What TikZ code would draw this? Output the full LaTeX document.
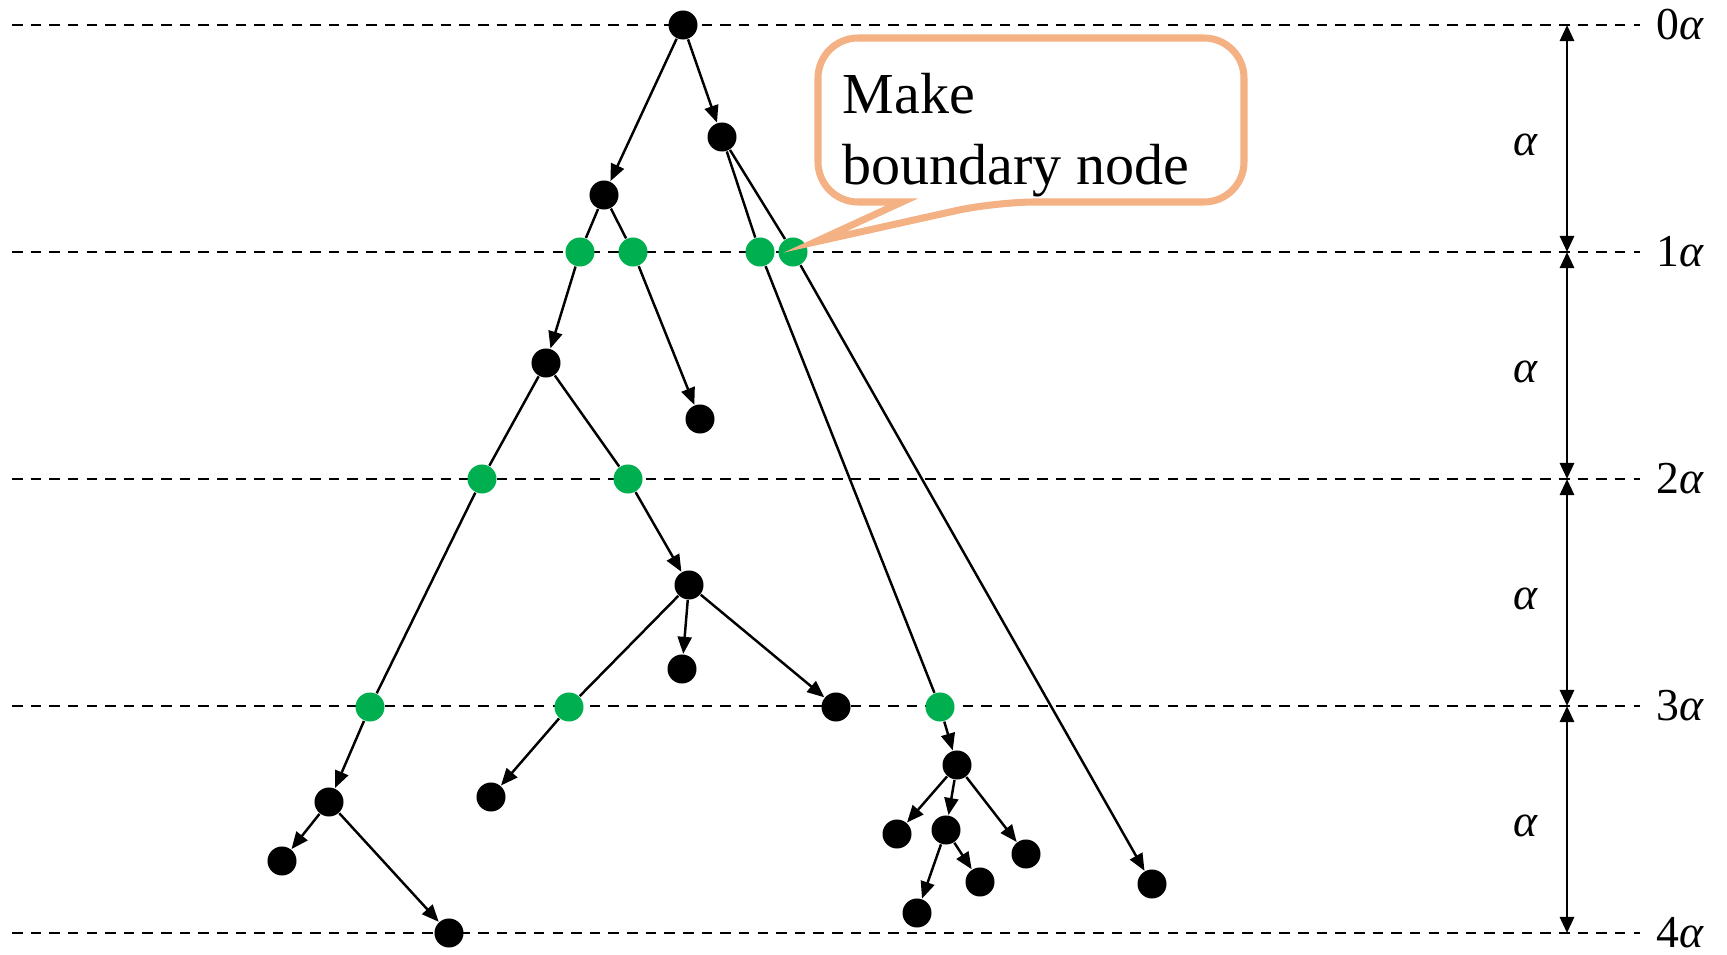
\documentclass[tikz,border=0pt]{standalone}
\usepackage{fontspec}
\setmainfont{Liberation Serif}
\usepackage{xcolor}
\usetikzlibrary{arrows.meta,calc}
\definecolor{bgreen}{RGB}{0,176,80}
\definecolor{peach}{RGB}{244,177,131}

\begin{document}
\begin{tikzpicture}[
  x=0.01cm, y=-0.01cm,
  font=\fontsize{13}{15}\selectfont,
  vtx/.style = {circle, fill=black, minimum size=0.29cm, inner sep=0pt},
  bnd/.style = {circle, fill=bgreen, minimum size=0.29cm, inner sep=0pt},
  arr/.style = {-{Triangle[length=0.17cm, width=0.14cm]}, line width=0.7pt},
  seg/.style = {line width=0.7pt},
  cutline/.style = {line width=0.75pt, dash pattern=on 3pt off 2.3pt},
  dim/.style = {{Triangle[length=0.16cm, width=0.14cm]}-{Triangle[length=0.16cm, width=0.14cm]}, line width=0.8pt},
  balloon/.style = {draw=peach, line width=2pt, fill=white},
]
\useasboundingbox (0,0) rectangle (1727,955);

% levels 0a .. 4a
\foreach \i in {0,...,4} {
  \pgfmathsetmacro{\yy}{25+227*\i}
  \draw[cutline] (12,\yy) -- (1640,\yy);
  \node[anchor=west, inner sep=0pt] (lv\i) at (1656,\yy) {\i\textit{α}};
  \coordinate (t\i) at (1567,\yy);
}
\foreach \i/\j in {0/1, 1/2, 2/3, 3/4} {
  \draw[dim] (t\i) -- (t\j);
  \node (w\i) at ($(t\i)!0.5!(t\j)+(-41,6)$) {\textit{α}};
}

% black vertices
\node[vtx] at (683,25)   (v0)  {};
\node[vtx] at (722,137)  (v1)  {};
\node[vtx] at (604,195)  (v2)  {};
\node[vtx] at (546,363)  (v3)  {};
\node[vtx] at (700,419)  (v4)  {};
\node[vtx] at (689,585)  (v5)  {};
\node[vtx] at (682,669)  (v6)  {};
\node[vtx] at (836,707)  (v7)  {};
\node[vtx] at (491,797)  (v8)  {};
\node[vtx] at (329,802)  (v9)  {};
\node[vtx] at (282,861)  (v10) {};
\node[vtx] at (449,933)  (v11) {};
\node[vtx] at (957,765)  (v12) {};
\node[vtx] at (897,834)  (v13) {};
\node[vtx] at (946,830)  (v14) {};
\node[vtx] at (1026,854) (v15) {};
\node[vtx] at (980,882)  (v16) {};
\node[vtx] at (917,913)  (v17) {};
\node[vtx] at (1152,884) (v18) {};

% boundary vertices
\node[bnd] at (580,252) (q1) {};
\node[bnd] at (633,252) (q2) {};
\node[bnd] at (760,252) (q3) {};
\node[bnd] at (793,252) (q4) {};
\node[bnd] at (482,479) (q5) {};
\node[bnd] at (628,479) (q6) {};
\node[bnd] at (370,707) (q7) {};
\node[bnd] at (569,707) (q8) {};
\node[bnd] at (940,707) (q9) {};

\foreach \s/\t in {v2/q1, v2/q2, v1/q3, q3/q9, v1/q4, v3/q5, q5/q7, v3/q6, v5/q8} {
  \draw[seg] (\s) -- (\t);
}
\foreach \s/\t in {v0/v1, v0/v2, q1/v3, q2/v4, q9/v12, q4/v18, q7/v9, q6/v5,
                   v5/v6, v5/v7, q8/v8, v9/v10, v9/v11,
                   v12/v13, v12/v14, v12/v15, v14/v16, v14/v17} {
  \draw[arr] (\s) -- (\t);
}

% speech balloon
\draw[balloon] (818,120) [rounded corners=0.4cm] -- (818,38) -- (1244,38) -- (1244,202)
  -- (995,202) [sharp corners] -- (815,242) -- (902,202) [rounded corners=0.4cm] -- (818,202) -- cycle;
\node[anchor=north west, align=left, inner sep=0pt, font=\fontsize{16.5}{20}\selectfont]
  (note) at (842,73) {Make\\boundary node};
\end{tikzpicture}
\end{document}
